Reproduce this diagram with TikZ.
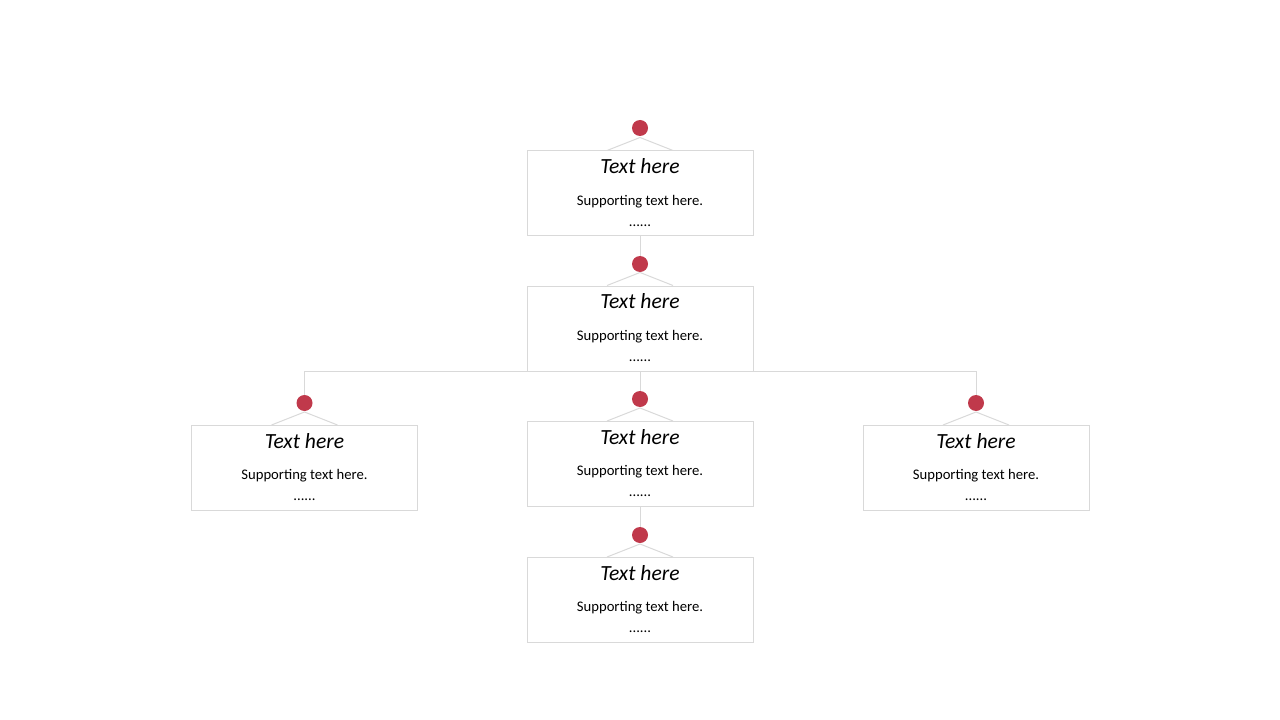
\documentclass[tikz,border=0pt]{standalone}
\usepackage{fontspec}
\setmainfont{Carlito}
\usetikzlibrary{positioning, calc}

\definecolor{dotred}{HTML}{C0394B}
\definecolor{linegray}{HTML}{D9D9D9}

\begin{document}
\begin{tikzpicture}[x=0.75pt, y=-0.75pt, line width=0.75pt,
                    box/.style= {rectangle,
                      draw=linegray,
                      minimum width=226*0.75pt,
                      minimum height=85*0.75pt},
                    dot/.style= {circle,
                      fill=dotred,
                      inner sep=0pt,
                      minimum size=16*0.75pt},
                    title/.style= {font=\fontsize{16.2}{18}\selectfont\itshape},
                    body/.style= {font=\fontsize{11}{13}\selectfont}]

  \useasboundingbox (0,0) rectangle (1280,720);

  % boxes
  \node[box] (b1) at (640,193.5) {};
  \node[box] (b2) at (640,328.5) {};
  \node[box] (b3) at (304.5,468) {};
  \node[box] (b4) at (640,464) {};
  \node[box] (b5) at (976,468) {};
  \node[box] (b6) at (640,600) {};

  % dots
  \node[dot] (d1) at (640,128) {};
  \node[dot] (d2) at (640,264) {};
  \node[dot] (d3) at (304.5,403) {};
  \node[dot] (d4) at (640,399) {};
  \node[dot] (d5) at (976,403) {};
  \node[dot] (d6) at (640,535) {};

  % roofs and texts
  \foreach \b in {b1,b2,b3,b4,b5,b6} {
    \draw[linegray] ($(\b.north)+(-33,0)$) -- ($(\b.north)+(0,-13)$)
      -- ($(\b.north)+(33,0)$);
    \node[title] (\b-t) at ($(\b.north)+(0,16)$) {Text here};
    \node[body] (\b-s) at ($(\b.north)+(0,51)$) {Supporting text here.};
    \node[body] (\b-d) at ($(\b.north)+(0,75)$) {......};
  }

  % connectors
  \path[draw=linegray]
    (b1.south) edge (d2.north)
    (b4.south) edge (d6.north);
  \draw[linegray] (d4.north) -- (b2.south);
  \draw[linegray] (d3.north) |- (b2.south) -| (d5.north);
\end{tikzpicture}
\end{document}
